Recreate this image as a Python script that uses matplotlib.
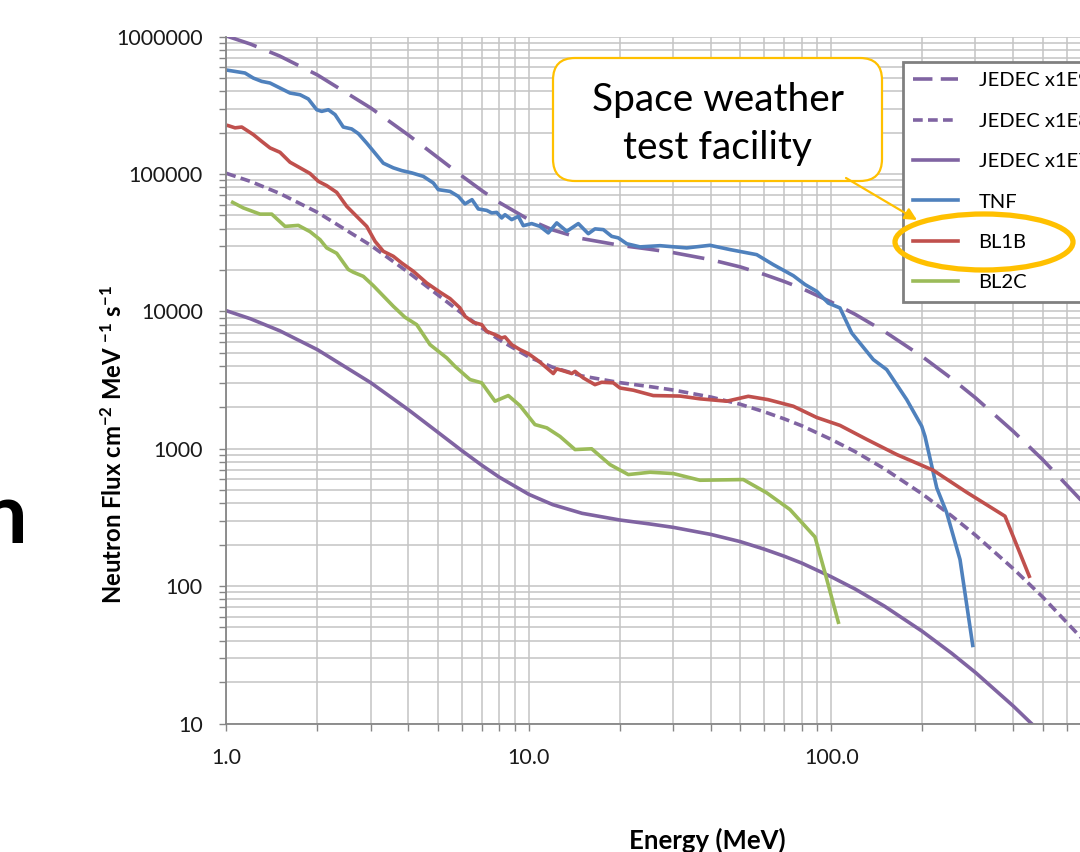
import matplotlib
matplotlib.use('Agg')
import matplotlib.pyplot as plt
from matplotlib.lines import Line2D
from matplotlib.patches import FancyBboxPatch, FancyArrowPatch, Ellipse
from matplotlib.ticker import LogLocator, FuncFormatter, NullFormatter

plt.rcParams['font.family'] = ['Lato', 'DejaVu Sans']
plt.rcParams['mathtext.fontset'] = 'custom'
plt.rcParams['mathtext.rm'] = 'Lato'
plt.rcParams['mathtext.bf'] = 'Lato:bold'
plt.rcParams['mathtext.it'] = 'Lato:italic'
plt.rcParams['lines.scale_dashes'] = False

# JEDEC reference spectrum
jedec_energy = [1, 1.2, 1.5, 2, 3, 4, 5, 6, 7, 8, 10, 12, 15, 20, 25, 30, 40, 50, 60, 70,
                80, 100, 120, 150, 200, 250, 300, 400, 500, 700, 1000]
jedec_x1e9 = [1012000, 884600, 723400, 526600, 303000, 192200, 132100, 97100, 75700, 62000,
              46600, 39200, 33900, 30300, 28400, 26800, 23800, 21100, 18600, 16500,
              14700, 11700, 9530, 7150, 4690, 3250, 2350, 1340, 835, 382, 153]
jedec_x1e8 = [101200, 88460, 72340, 52660, 30300, 19220, 13210, 9710, 7570, 6200,
              4660, 3920, 3390, 3030, 2840, 2680, 2380, 2110, 1860, 1650,
              1470, 1170, 953, 715, 469, 325, 235, 134, 83.5, 38.2, 15.3]
jedec_x1e7 = [10120, 8846, 7234, 5266, 3030, 1922, 1321, 971, 757, 620,
              466, 392, 339, 303, 284, 268, 238, 211, 186, 165,
              147, 117, 95.3, 71.5, 46.9, 32.5, 23.5, 13.4, 8.35, 3.82, 1.53]

tnf_energy = [1.015, 1.152, 1.227, 1.308, 1.394, 1.504, 1.623, 1.752, 1.866, 1.989,
              2.066, 2.173, 2.287, 2.435, 2.596, 2.731, 2.911, 3.101, 3.303, 3.564,
              3.801, 4.101, 4.479, 4.834, 5.021, 5.489, 5.846, 6.152, 6.489, 6.808,
              7.257, 7.539, 7.831, 8.135, 8.342, 8.778, 9.232, 9.590, 10.22, 10.89,
              11.60, 12.37, 13.35, 14.58, 15.73, 16.55, 17.64, 18.80, 19.77, 21.08,
              23.32, 27.16, 33.29, 39.73, 46.27, 56.70, 64.36, 74.95, 81.91, 89.55,
              97.82, 106.9, 116.9, 137.8, 152.6, 177.7, 199.2, 204.3, 223.4, 241.0,
              266.7, 293.8]
tnf_flux = [569000, 544000, 500000, 473000, 460000, 423000, 389000, 378000, 352000, 294000,
            286000, 294000, 271000, 220000, 213000, 197000, 168000, 142000, 120000, 111000,
            106000, 102000, 96200, 86100, 77000, 74800, 68800, 60600, 65100, 55700,
            54400, 52100, 52600, 47900, 50600, 46600, 49200, 42100, 43600, 41600,
            37300, 44100, 38300, 43600, 36800, 39900, 39400, 35200, 34300, 31100,
            29500, 30100, 29000, 30300, 28200, 25900, 21900, 18200, 15700, 14000,
            11500, 10600, 6970, 4460, 3770, 2280, 1460, 1230, 519, 342,
            156, 37.0]

bl1b_energy = [1.015, 1.068, 1.124, 1.227, 1.308, 1.394, 1.504, 1.623, 1.752, 1.890,
               2.014, 2.146, 2.316, 2.500, 2.697, 2.911, 3.101, 3.303, 3.564, 3.801,
               4.151, 4.597, 5.087, 5.489, 5.922, 6.152, 6.554, 6.987, 7.257, 7.731,
               8.135, 8.342, 8.778, 9.352, 9.962, 10.62, 11.31, 12.05, 12.37, 13.18,
               13.87, 14.22, 15.14, 16.55, 17.42, 19.03, 20.03, 22.16, 25.80, 31.62,
               36.83, 45.12, 53.19, 61.81, 74.95, 89.55, 106.9, 131.1, 164.7, 217.6,
               280.6, 375.6, 451.9]
bl1b_flux = [225000, 217000, 220000, 194000, 173000, 155000, 144000, 122000, 111000, 101000,
             88500, 82400, 73600, 58200, 49200, 41600, 32400, 27400, 25200, 22500,
             19600, 16100, 13800, 12400, 10600, 9210, 8330, 8010, 7160, 6780,
             6410, 6520, 5730, 5270, 4930, 4460, 3980, 3530, 3820, 3660,
             3530, 3660, 3280, 2930, 3050, 3020, 2770, 2670, 2440, 2420,
             2310, 2220, 2410, 2280, 2040, 1690, 1480, 1170, 908, 697,
             482, 323, 118]

bl2c_energy = [1.049, 1.137, 1.292, 1.412, 1.563, 1.729, 1.890, 2.040, 2.146, 2.316,
               2.530, 2.628, 2.836, 3.061, 3.564, 3.896, 4.259, 4.713, 5.353, 5.701,
               6.391, 6.987, 7.731, 8.554, 9.352, 10.48, 11.47, 12.68, 14.22, 16.14,
               18.56, 21.33, 25.17, 30.06, 36.83, 51.21, 61.20, 73.07, 88.39, 95.40,
               105.6]
bl2c_flux = [62200, 56700, 51100, 51100, 41600, 42300, 38100, 33300, 29000, 26500,
             20200, 19300, 18000, 15400, 10900, 9060, 8010, 5730, 4590, 3980,
             3190, 3020, 2220, 2440, 2060, 1500, 1420, 1230, 987, 1000,
             767, 649, 675, 660, 590, 597, 478, 361, 228, 125,
             54.6]

series_labels = ['JEDEC x1E9', 'JEDEC x1E8', 'JEDEC x1E7', 'TNF', 'BL1B', 'BL2C']

PURPLE = '#8064A2'
BLUE = '#4F81BD'
RED = '#C0504D'
GREEN = '#9BBB59'
ORANGE = '#FFC000'
GRID = '#c4c4c4'
AXIS = '#868686'
LW = 2.6

fig = plt.figure(figsize=(10.8, 8.52), dpi=100)
# plot area runs past the right edge of the picture (1000 MeV is cut off)
ax = fig.add_axes([226.4 / 1080, 1 - 723.5 / 852, 907.2 / 1080, 686.8 / 852])
ax.set_xscale('log')
ax.set_yscale('log')
ax.set_xlim(1, 1000)
ax.set_ylim(10, 1e6)

ax.plot(jedec_energy, jedec_x1e9, color=PURPLE, lw=LW, dashes=(23, 10))
ax.plot(jedec_energy, jedec_x1e8, color=PURPLE, lw=LW, dashes=(7, 3.8))
ax.plot(jedec_energy, jedec_x1e7, color=PURPLE, lw=LW)
ax.plot(tnf_energy, tnf_flux, color=BLUE, lw=LW)
ax.plot(bl1b_energy, bl1b_flux, color=RED, lw=LW)
ax.plot(bl2c_energy, bl2c_flux, color=GREEN, lw=LW)

for axis in (ax.xaxis, ax.yaxis):
    axis.set_major_locator(LogLocator(base=10, numticks=12))
    axis.set_minor_locator(LogLocator(base=10, subs=range(2, 10), numticks=60))
    axis.set_minor_formatter(NullFormatter())
ax.xaxis.set_major_formatter(FuncFormatter(lambda v, p: f'{v:.1f}'))
ax.yaxis.set_major_formatter(FuncFormatter(lambda v, p: f'{v:.0f}'))

ax.grid(True, which='both', color=GRID, lw=1.1)
ax.set_axisbelow(True)
ax.tick_params(which='both', direction='out', length=5, width=1, color=AXIS,
               labelsize=15.5, labelcolor='#1a1a1a')
ax.tick_params(axis='y', pad=12)
ax.tick_params(axis='x', pad=13)
for side in ('top', 'right'):
    ax.spines[side].set_visible(False)
for side in ('left', 'bottom'):
    ax.spines[side].set_color(AXIS)
    ax.spines[side].set_linewidth(1.3)

ax.set_ylabel(r'Neutron Flux cm$^{\mathbf{-2}}$ MeV $^{\mathbf{-1}}$ s$^{\mathbf{-1}}$',
              fontsize=17.2, fontweight='bold')
ax.yaxis.set_label_coords((113 - 226.4) / 907.2, (723.5 - 445) / 686.8)
ax.yaxis.label.set_verticalalignment('center')
ax.set_xlabel('Energy (MeV)', fontsize=18.5, fontweight='bold')
ax.xaxis.set_label_coords((707 - 226.4) / 907.2, (723.5 - 849) / 686.8)
ax.xaxis.label.set_verticalalignment('baseline')

handles = [
    Line2D([], [], color=PURPLE, lw=LW, dashes=(14, 6)),
    Line2D([], [], color=PURPLE, lw=LW, dashes=(7, 3.8)),
    Line2D([], [], color=PURPLE, lw=LW),
    Line2D([], [], color=BLUE, lw=LW),
    Line2D([], [], color=RED, lw=LW),
    Line2D([], [], color=GREEN, lw=LW),
]
leg = ax.legend(handles, series_labels, loc='upper left',
                bbox_to_anchor=(903 / 1080, 1 - 62 / 852), bbox_transform=fig.transFigure,
                fontsize=14.5, frameon=True, fancybox=False, framealpha=1,
                edgecolor='#808080', handlelength=2.23, handletextpad=1.02,
                labelspacing=1.16, borderpad=0.5, borderaxespad=0)
leg.get_frame().set_linewidth(2)

# slide call-out (pixel positions converted to inches)
inch = fig.dpi_scale_trans
box = FancyBboxPatch((5.53, 6.71), 3.29, 1.23, boxstyle='round,pad=0,rounding_size=0.22',
                     transform=inch, facecolor='white', edgecolor=ORANGE, lw=1.6)
fig.add_artist(box)
fig.text(7.175, (852 - 124) / 100, 'Space weather\ntest facility', transform=inch,
         ha='center', va='center', fontsize=28, linespacing=1.4, color='black')
arrow = FancyArrowPatch((8.46, (852 - 178) / 100), (9.17, (852 - 220) / 100),
                        transform=inch, arrowstyle='-|>', mutation_scale=18,
                        color=ORANGE, lw=1.6, shrinkA=0, shrinkB=0)
fig.add_artist(arrow)
ring = Ellipse((9.84, (852 - 242) / 100), 1.78, 0.56, transform=inch,
               fill=False, edgecolor=ORANGE, lw=3.8)
fig.add_artist(ring)

# cut-off slide letter on the left
fig.text(0.28, (852 - 543) / 100, 'n', transform=inch, ha='right', va='baseline',
         fontsize=61, fontweight='bold', color='black')

fig.savefig('out.png', dpi=100)
